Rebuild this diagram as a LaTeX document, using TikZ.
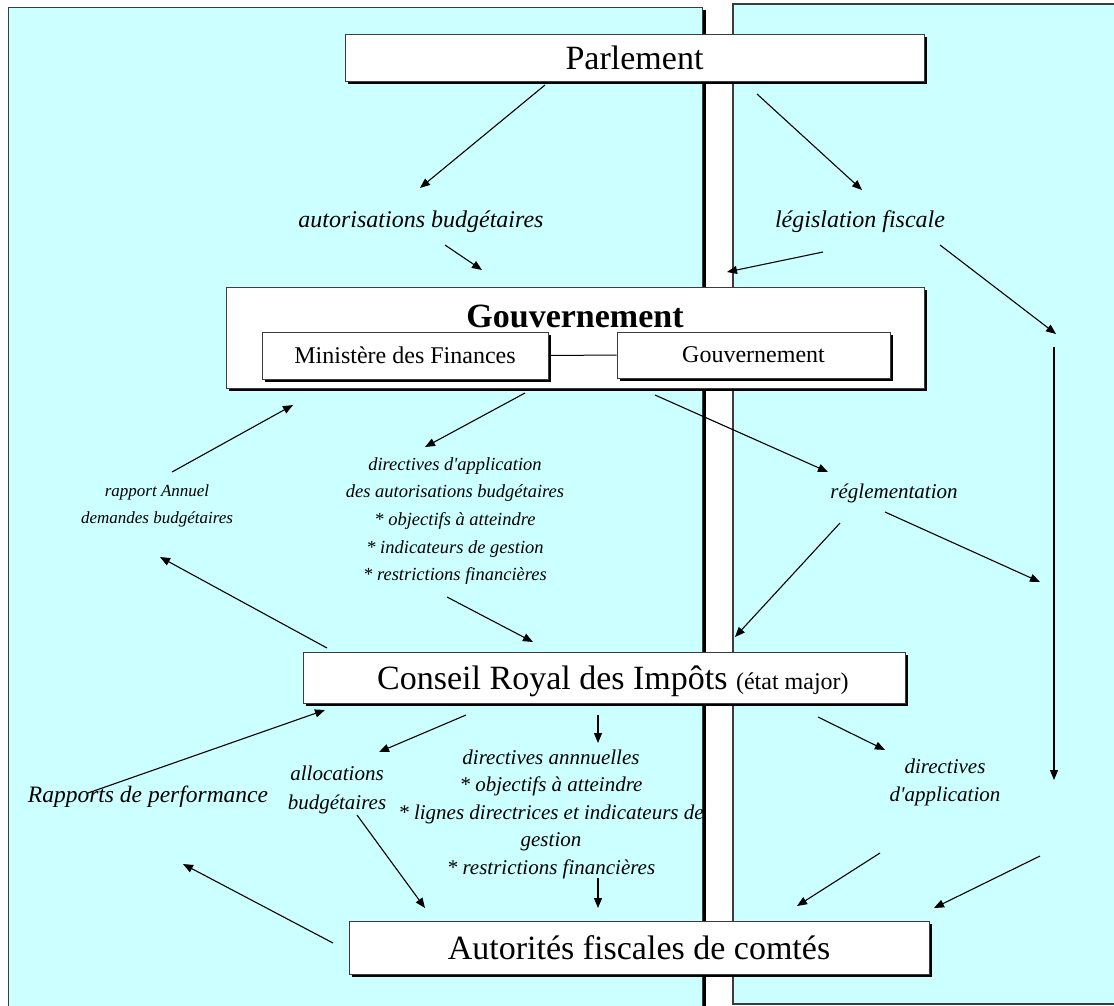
\documentclass[tikz,border=0pt]{standalone}
\usepackage{fontspec}
\setmainfont{Liberation Serif}
\usetikzlibrary{arrows.meta,shadows}
\definecolor{panel}{RGB}{204,255,255}
\definecolor{edge}{RGB}{60,60,60}
\begin{document}
\begin{tikzpicture}[x=1pt,y=-1pt,
  arr/.style={line width=1.1pt,-{Triangle[length=10pt,width=8pt]}},
  box/.style={draw=edge,line width=1pt,fill=white,inner sep=0pt,
    drop shadow={shadow xshift=3pt,shadow yshift=-3pt,opacity=1,fill=black}},
  big/.style={font=\fontsize{34}{40}\selectfont},
  mid/.style={font=\fontsize{24}{28}\selectfont},
  lab/.style={font=\fontsize{24}{27.5}\selectfont\itshape,align=center,inner sep=0pt},
  labm/.style={font=\fontsize{21}{27.5}\selectfont\itshape,align=center,inner sep=0pt},
  labs/.style={font=\fontsize{18.5}{27.7}\selectfont\itshape,align=center,inner sep=0pt},
  labxs/.style={font=\fontsize{17}{27}\selectfont\itshape,align=center,inner sep=0pt},
]
\useasboundingbox (0,0) rectangle (1114,1005);
% panels
\fill[black] (706,10) rectangle (702,1010);
\filldraw[fill=panel,draw=edge,line width=1pt] (8,7) rectangle (702,1010);
\filldraw[fill=panel,draw=edge,line width=1.2pt] (733,4) rectangle (1120,1004);

% boxes
\node[box,big,minimum width=579pt,minimum height=47pt] (parl) at (634.5,57.5) {Parlement};
\node[box,minimum width=698pt,minimum height=101pt] (gouvbox) at (575,337.5) {};
\node[font=\fontsize{34}{40}\selectfont\bfseries,anchor=base,inner sep=0pt] (gouvtitle) at (575,327) {Gouvernement};
\node[box,mid,minimum width=286pt,minimum height=47pt] (minfin) at (405,355.5) {Ministère des Finances};
\node[box,mid,minimum width=273pt,minimum height=46pt] (gouvsmall) at (753.5,355) {Gouvernement};
\draw[line width=1pt] (minfin.east) -- (gouvsmall.west);
\node[box,minimum width=602pt,minimum height=51pt] (conseil) at (604,677.5) {};
\node[anchor=base west,inner sep=0pt] (conseiltxt) at (377,689) {\fontsize{34}{40}\selectfont Conseil Royal des Impôts \fontsize{24}{28}\selectfont(état major)};
\node[box,big,minimum width=580pt,minimum height=53pt] (autor) at (639,947.5) {Autorités fiscales de comtés};

% labels
\node[lab] (autbud) at (421,222) {autorisations budgétaires};
\node[lab] (legfisc) at (860,222) {législation fiscale};
\node[labs] (diraut) at (455,521) {directives d\textquotesingle application\\des autorisations budgétaires\\* objectifs à atteindre\\* indicateurs de gestion\\* restrictions financières};
\node[labxs] (rapann) at (157,506) {rapport Annuel\\demandes budgétaires};
\node[labm] (regl) at (894,493) {réglementation};
\node[labm,font=\fontsize{21}{29}\selectfont\itshape] (alloc) at (337,790) {allocations\\budgétaires};
\node[labm] (dirann) at (551,814) {directives annnuelles\\* objectifs à atteindre\\* lignes directrices et indicateurs de\\gestion\\* restrictions financières};
\node[lab,font=\fontsize{23.5}{28}\selectfont\itshape] (rapperf) at (148,797) {Rapports de performance};
\node[labm,font=\fontsize{21}{28}\selectfont\itshape] (dirapp) at (945,782) {directives\\d\textquotesingle application};

% arrow end points
\coordinate (a1s) at (545,85);   \coordinate (a1e) at (420,188);
\coordinate (a2s) at (445,245);  \coordinate (a2e) at (482,270);
\coordinate (a3s) at (757,94);   \coordinate (a3e) at (862,190);
\coordinate (a4s) at (823,252);  \coordinate (a4e) at (727,272);
\coordinate (a5s) at (940,245);  \coordinate (a5e) at (1056,334);
\coordinate (a6s) at (1054,347); \coordinate (a6e) at (1054,780);
\coordinate (a7s) at (525,393);  \coordinate (a7e) at (425,447);
\coordinate (a8s) at (655,395);  \coordinate (a8e) at (828,472);
\coordinate (a9s) at (885,512);  \coordinate (a9e) at (1040,582);
\coordinate (a10s) at (840,523); \coordinate (a10e) at (735,637);
\coordinate (a11s) at (447,597); \coordinate (a11e) at (533,642);
\coordinate (a12s) at (327,648); \coordinate (a12e) at (160,557);
\coordinate (a13s) at (172,472); \coordinate (a13e) at (293,405);
\coordinate (a14s) at (466,715); \coordinate (a14e) at (379,752);
\coordinate (a15s) at (598,715); \coordinate (a15e) at (598,743);
\coordinate (a16s) at (818,717); \coordinate (a16e) at (885,750);
\coordinate (a17s) at (88,793);  \coordinate (a17e) at (325,710);
\coordinate (a18s) at (333,943); \coordinate (a18e) at (183,864);
\coordinate (a19s) at (357,815); \coordinate (a19e) at (425,908);
\coordinate (a20s) at (598,878); \coordinate (a20e) at (598,908);
\coordinate (a21s) at (880,853); \coordinate (a21e) at (797,906);
\coordinate (a22s) at (1040,856);\coordinate (a22e) at (934,908);

\foreach \i in {1,...,5,7,8,9,10,11,12,13,14,15,16,17,18,19,20,21,22}
  \draw[arr] (a\i s) -- (a\i e);
\draw[arr] (a6s) -- (a6e);
\end{tikzpicture}
\end{document}
